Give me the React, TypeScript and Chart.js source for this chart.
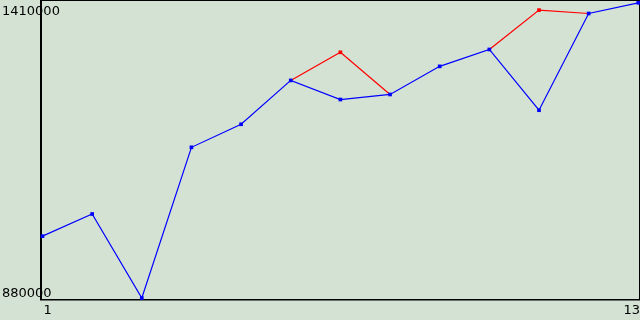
import React, { useEffect, useRef } from "react";
import { Chart, registerables } from "chart.js";

Chart.register(...registerables);

const categories = ["1", "2", "3", "4", "5", "6", "7", "8", "9", "10", "11", "12", "13"];
const blueValues = [990000, 1029400, 880000, 1148000, 1189000, 1267000, 1233000, 1242000, 1292000, 1322000, 1214000, 1386000, 1405000];
const redValues = [990000, 1029400, 880000, 1148000, 1189000, 1267000, 1317000, 1242000, 1292000, 1322000, 1392000, 1386000, 1405000];
const yMin = 880000;
const yMax = 1410000;
const yTickLabels = ["1410000", "880000"];
const xTickLabels = ["1", "13"];

const BG = "rgb(212,226,212)";
const FONT = "13px 'DejaVu Sans'";

const sameAsBlue = (i: number) => redValues[i] === blueValues[i];

export default function App() {
  const ref = useRef<HTMLCanvasElement | null>(null);
  useEffect(() => {
    const canvas = ref.current;
    if (!canvas) return;
    const framePlugin = {
      id: "frame",
      beforeDraw(chart: any) {
        const ctx = chart.ctx;
        ctx.save();
        ctx.fillStyle = BG;
        ctx.fillRect(0, 0, chart.width, chart.height);
        ctx.restore();
      },
      beforeDatasetsDraw(chart: any) {
        const ctx = chart.ctx;
        const a = chart.chartArea;
        ctx.save();
        ctx.fillStyle = "#000";
        ctx.fillRect(40, 0, chart.width - 40, 1);
        ctx.fillRect(chart.width - 1, 0, 1, a.bottom + 1);
        ctx.fillRect(40, 0, 2, a.bottom + 2);
        ctx.fillRect(40, a.bottom + 1, chart.width - 40, 1.5);
        ctx.restore();
      },
      afterDraw(chart: any) {
        const ctx = chart.ctx;
        const a = chart.chartArea;
        ctx.save();
        ctx.fillStyle = "#000";
        ctx.font = FONT;
        ctx.textBaseline = "alphabetic";
        ctx.textAlign = "left";
        ctx.fillText(yTickLabels[0], 2, a.top + 15);
        ctx.fillText(yTickLabels[1], 2, a.bottom - 1);
        ctx.fillText(xTickLabels[0], 43.5, a.bottom + 16);
        ctx.textAlign = "right";
        ctx.fillText(xTickLabels[1], chart.width, a.bottom + 16);
        ctx.restore();
      },
    };
    const chart = new Chart(canvas, {
      type: "line",
      data: {
        labels: categories,
        datasets: [
          {
            label: "blue",
            data: blueValues,
            borderColor: "#0000ff",
            backgroundColor: "#0000ff",
            borderWidth: 1.2,
            pointStyle: "rect",
            pointRadius: 2.6,
            pointBorderWidth: 0,
            tension: 0,
            fill: false,
            clip: false as any,
            order: 0,
          },
          {
            label: "red",
            data: redValues,
            borderColor: "#ff0000",
            backgroundColor: "#ff0000",
            borderWidth: 1.2,
            pointStyle: "rect",
            pointRadius: (c: any) => (sameAsBlue(c.dataIndex) ? 0 : 2.6),
            pointBorderWidth: 0,
            tension: 0,
            fill: false,
            clip: false as any,
            order: 1,
            segment: {
              borderColor: (c: any) =>
                sameAsBlue(c.p0DataIndex) && sameAsBlue(c.p1DataIndex) ? "rgba(0,0,0,0)" : "#ff0000",
            },
          },
        ],
      },
      options: {
        animation: false,
        responsive: false,
        devicePixelRatio: 1,
        layout: { autoPadding: false, padding: { left: 42.5, right: 1.7, top: 0, bottom: 22 } },
        plugins: { legend: { display: false }, tooltip: { enabled: false } },
        events: [],
        scales: {
          x: { type: "category", display: false, offset: false },
          y: { type: "linear", display: false, min: yMin, max: yMax },
        },
      },
      plugins: [framePlugin],
    });
    return () => chart.destroy();
  }, []);
  return (
    <div style={{ position: "fixed", left: 0, top: 0, width: 640, height: 320 }}>
      <canvas ref={ref} width={640} height={320} style={{ display: "block", width: 640, height: 320 }} />
    </div>
  );
}
